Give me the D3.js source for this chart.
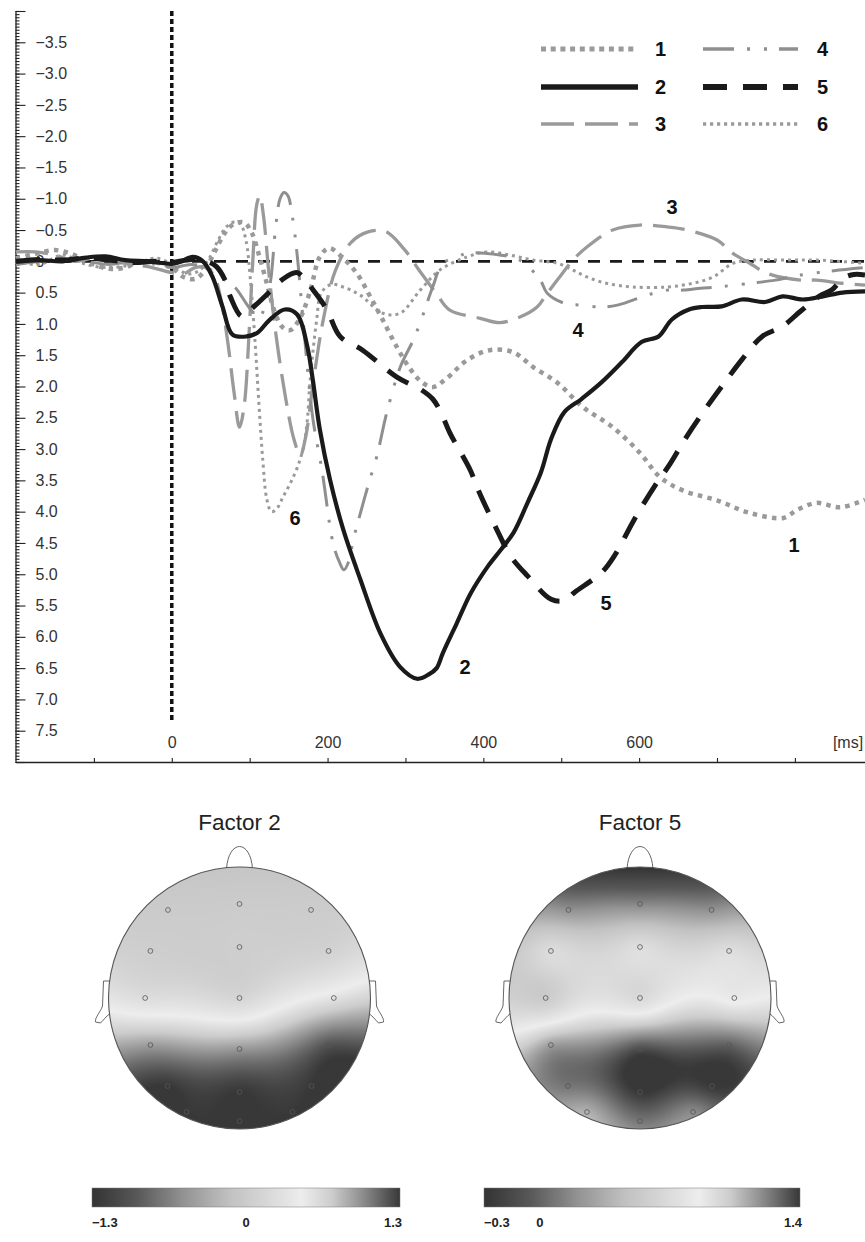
<!DOCTYPE html>
<html><head><meta charset="utf-8">
<script src="https://cdn.jsdelivr.net/npm/d3@7"></script>
<style>
html,body{margin:0;padding:0;background:#fff;}
svg{display:block;font-family:"Liberation Sans",Arial,Helvetica,sans-serif;}
</style></head><body>
<svg id="chart" width="865" height="1242"></svg>
<script>
// ---------------- DATA ----------------
// time (ms), amplitude (µV, positive down)
const factor1 = [[-200,-0.05],[-175,-0.12],[-150,-0.18],[-125,-0.1],[-100,0.05],[-80,0.12],[-60,0.1],[-40,0.0],[-20,0.02],[0,0.1],[15,0.25],[30,0.28],[42,0.15],[55,-0.15],[68,-0.45],[80,-0.6],[93,-0.62],[103,-0.45],[112,-0.1],[122,0.35],[132,0.8],[142,1.05],[152,1.1],[165,0.9],[178,0.46],[190,-0.07],[202,-0.21],[220,-0.05],[238,0.2],[255,0.57],[271,0.94],[289,1.37],[305,1.7],[320,1.92],[335,2.01],[352,1.88],[379,1.58],[408,1.42],[438,1.45],[464,1.69],[495,1.94],[528,2.33],[566,2.65],[601,3.06],[627,3.45],[656,3.66],[700,3.82],[742,4.02],[785,4.1],[803,3.97],[828,3.86],[858,3.93],[890,3.81]];
const factor2 = [[-200,0.0],[-170,-0.02],[-140,0.0],[-110,-0.06],[-85,-0.08],[-60,-0.02],[-30,0.0],[-10,0.03],[0,0.04],[12,0.0],[27,-0.07],[40,0.0],[52,0.24],[65,0.72],[78,1.17],[96,1.2],[110,1.14],[126,0.93],[145,0.77],[161,0.85],[174,1.36],[181,1.89],[190,2.68],[203,3.48],[220,4.28],[242,5.08],[268,5.95],[293,6.48],[315,6.67],[330,6.6],[340,6.5],[348,6.26],[366,5.78],[384,5.3],[406,4.87],[423,4.6],[439,4.33],[457,3.85],[474,3.37],[487,2.84],[504,2.41],[526,2.2],[552,1.93],[578,1.61],[603,1.29],[625,1.2],[642,0.93],[664,0.77],[681,0.73],[706,0.72],[732,0.61],[762,0.65],[784,0.56],[810,0.61],[836,0.56],[861,0.5],[890,0.48]];
const factor3 = [[-200,-0.15],[-175,-0.15],[-150,-0.1],[-125,0.0],[-100,-0.05],[-75,0.0],[-50,0.05],[-25,0.1],[0,0.18],[15,0.2],[30,0.1],[45,0.1],[55,0.25],[63,0.6],[72,1.3],[80,2.1],[87,2.65],[93,2.3],[99,1.2],[104,0.0],[109,-0.9],[113,-1.05],[118,-0.7],[124,0.1],[133,1.1],[145,2.1],[157,2.85],[165,3.1],[172,2.8],[182,1.9],[195,0.9],[210,0.15],[230,-0.3],[252,-0.47],[274,-0.48],[298,-0.2],[318,0.15],[340,0.52],[357,0.78],[396,0.91],[421,0.98],[447,0.89],[469,0.73],[482,0.51],[498,0.25],[515,-0.02],[533,-0.23],[566,-0.5],[601,-0.58],[636,-0.55],[662,-0.5],[700,-0.34],[720,-0.13],[742,0.03],[764,0.19],[807,0.3],[828,0.3],[860,0.35],[890,0.38]];
const factor4 = [[-200,0.05],[-170,0.0],[-140,-0.05],[-110,0.0],[-80,0.05],[-50,0.0],[-20,0.05],[0,0.1],[25,0.05],[45,0.1],[62,0.25],[80,0.4],[100,0.75],[112,0.9],[120,0.7],[127,0.3],[133,-0.5],[139,-1.0],[144,-1.1],[149,-1.05],[155,-0.7],[161,-0.1],[169,1.0],[181,2.5],[193,3.35],[207,4.5],[215,4.8],[221,4.93],[227,4.8],[233,4.45],[242,4.03],[254,3.5],[263,3.13],[276,2.42],[293,1.7],[310,1.26],[319,0.98],[335,0.41],[348,0.03],[367,-0.07],[379,-0.13],[421,-0.1],[447,-0.02],[473,0.3],[482,0.51],[504,0.67],[526,0.7],[552,0.73],[572,0.7],[592,0.62],[618,0.51],[636,0.46],[657,0.46],[679,0.43],[700,0.41],[743,0.35],[775,0.3],[807,0.22],[850,0.15],[890,0.1]];
const factor5 = [[-200,0.0],[-170,-0.03],[-140,-0.02],[-110,-0.05],[-80,-0.02],[-50,0.02],[-20,0.0],[0,0.02],[25,-0.03],[45,0.0],[57,0.08],[68,0.29],[75,0.56],[90,0.88],[104,0.74],[122,0.53],[142,0.29],[160,0.18],[168,0.24],[181,0.45],[199,0.77],[216,1.2],[245,1.42],[289,1.85],[320,2.05],[335,2.2],[345,2.4],[357,2.74],[383,3.33],[393,3.64],[419,4.33],[435,4.71],[457,5.03],[487,5.4],[504,5.42],[517,5.29],[552,4.97],[568,4.71],[594,4.12],[620,3.59],[638,3.27],[659,2.84],[685,2.36],[706,2.0],[732,1.57],[758,1.2],[784,1.04],[806,0.81],[831,0.56],[848,0.45],[862,0.27],[876,0.21],[890,0.22]];
const factor6 = [[-200,0.0],[-170,0.05],[-140,-0.1],[-110,0.05],[-80,0.1],[-50,0.05],[-20,-0.05],[0,0.05],[20,0.2],[35,0.15],[48,-0.05],[60,-0.35],[70,-0.55],[80,-0.63],[88,-0.6],[95,-0.35],[101,0.3],[107,1.3],[112,2.3],[117,3.2],[122,3.8],[128,4.0],[135,3.95],[143,3.76],[152,3.55],[161,3.3],[169,2.97],[174,2.54],[177,2.0],[181,1.47],[186,0.94],[192,0.5],[205,0.37],[220,0.41],[242,0.54],[271,0.83],[293,0.83],[319,0.46],[344,0.14],[379,-0.07],[405,-0.15],[434,-0.1],[464,-0.02],[495,0.03],[515,0.14],[533,0.25],[558,0.35],[592,0.41],[636,0.41],[669,0.35],[695,0.25],[721,0.03],[746,-0.02],[785,-0.02],[828,-0.02],[890,0.03]];

const seriesNames = ["1","2","3","4","5","6"];
const yTickLabels = [-3.5,-3.0,-2.5,-2.0,-1.5,-1.0,-0.5,0,0.5,1.0,1.5,2.0,2.5,3.0,3.5,4.0,4.5,5.0,5.5,6.0,6.5,7.0,7.5];
const xTickLabels = [0,200,400,600];
const xTicks = [-100,0,100,200,300,400,500,600,700,800];

// topographic maps: electrode positions (unit head) and loadings
const electrodePos = [[-0.546,-0.672],[0,-0.718],[0.546,-0.672],[-0.68,-0.359],[0,-0.389],[0.68,-0.359],[-0.72,0],[0,0],[0.72,0],[-0.68,0.359],[0,0.389],[0.68,0.359],[-0.55,0.672],[0,0.718],[0.55,0.672],[-0.405,0.87],[0,0.94],[0.405,0.87]];
const topoFactor2 = [0.0,0.0,0.02, 0.05,0.05,0.1, 0.25,0.15,0.55, 0.92,0.94,1.2, 1.3,1.3,1.3, 1.3,1.3,1.3];
const topoFactor5 = [0.2,0.15,0.2, 0.7,0.72,0.72, 0.55,0.68,0.82, 1.15,1.35,1.3, 1.25,1.4,1.4, 1.1,1.25,1.2];
const topoRange2 = [-1.3, 1.3];
const topoRange5 = [-0.3, 1.4];
const topoTitles = ["Factor 2", "Factor 5"];

// ---------------- STYLES ----------------
const styles = {
  "1": {color:"#9a9a9a", width:4.5, dash:"4.5,5.2", lw:5, ldash:"5,4.7"},
  "2": {color:"#1a1a1a", width:4.2, dash:null, lw:5.5, ldash:null},
  "3": {color:"#9a9a9a", width:3.3, dash:"32,11", lw:3.6, ldash:"33,11"},
  "4": {color:"#8f8f8f", width:3, dash:"31,13,3,14,3,12", lw:3.4, ldash:"31,13,3,14,3,12"},
  "5": {color:"#1a1a1a", width:5, dash:"24,15", lw:6, ldash:"24,16"},
  "6": {color:"#9a9a9a", width:3, dash:"3,4", lw:3.4, ldash:"3.2,3.8"}
};
const seriesData = {"1":factor1,"2":factor2,"3":factor3,"4":factor4,"5":factor5,"6":factor6};

const svg = d3.select("#chart");
svg.append("rect").attr("width",865).attr("height",1242).attr("fill","#fff");

const x = d3.scaleLinear().domain([-200, 890]).range([16, 865]);
const y = d3.scaleLinear().domain([-4, 8]).range([11, 762]);
const fmt = d3.format(".1f");

// zero line
svg.append("line").attr("x1",x(-200)).attr("x2",865).attr("y1",y(0)).attr("y2",y(0))
  .attr("stroke","#1a1a1a").attr("stroke-width",2.6).attr("stroke-dasharray","12,10");
// stimulus onset line
svg.append("line").attr("x1",x(0)).attr("x2",x(0)).attr("y1",11).attr("y2",723)
  .attr("stroke","#111").attr("stroke-width",3.5).attr("stroke-dasharray","5,3");

// y axis
const yg = svg.append("g").attr("transform","translate(15.5,0)");
yg.call(d3.axisRight(y).tickValues(d3.range(0,241).map(i=>-4+i*0.05)).tickSize(4).tickSizeOuter(0).tickFormat(""));
yg.call(g=>g.selectAll(".domain").attr("stroke","#222").attr("stroke-width",1.3));
const yg2 = svg.append("g").attr("transform","translate(15.5,0)");
yg2.call(d3.axisRight(y).tickValues(d3.range(0,25).map(i=>-4+i*0.5)).tickSize(10).tickPadding(10).tickSizeOuter(0)
  .tickFormat(v => yTickLabels.some(t=>Math.abs(t-v)<1e-6) ? (Math.abs(v)<1e-6 ? "0" : fmt(v)) : ""));
yg2.select(".domain").remove();
svg.selectAll(".tick line").attr("stroke","#222").attr("stroke-width",1.1);
yg2.selectAll("text").attr("font-size",16).attr("fill","#333").attr("font-family","Liberation Sans, Arial, sans-serif");

// x axis
const xg = svg.append("g").attr("transform","translate(0,762)");
xg.call(d3.axisTop(x).tickValues(xTicks).tickSize(4).tickPadding(10).tickSizeOuter(0)
  .tickFormat(v => xTickLabels.includes(v) ? String(v) : ""));
xg.select(".domain").attr("stroke","#222").attr("stroke-width",1.3);
xg.selectAll(".tick line").attr("stroke","#222").attr("stroke-width",1.1);
xg.selectAll("text").attr("font-size",16).attr("fill","#333").attr("font-family","Liberation Sans, Arial, sans-serif");
svg.append("text").attr("x",848).attr("y",748).attr("text-anchor","middle")
  .attr("font-size",16).attr("fill","#333").text("[ms]");

// curves
const line = d3.line().x(d=>x(d[0])).y(d=>y(d[1])).curve(d3.curveCatmullRom.alpha(0.5));
const drawOrder = ["1","6","3","4","5","2"];
drawOrder.forEach(k=>{
  const s = styles[k];
  const p = svg.append("path").datum(seriesData[k]).attr("d",line)
    .attr("fill","none").attr("stroke",s.color).attr("stroke-width",s.width)
    .attr("stroke-linejoin","round");
  if (s.dash) p.attr("stroke-dasharray",s.dash);
});

// curve labels
const curveLabels = [["1",794,545],["2",465,667],["3",672,207],["4",578,330],["5",606,603],["6",295,518]];
curveLabels.forEach(([t,cx,cy])=>{
  svg.append("text").attr("x",cx).attr("y",cy+7).attr("text-anchor","middle")
    .attr("font-size",20).attr("font-weight","bold").attr("fill","#111").text(t);
});

// legend
const legendCols = [{x1:541,x2:638,lx:655,items:["1","2","3"]},{x1:703,x2:798,lx:817,items:["4","5","6"]}];
const legendRows = [49,87,124];
legendCols.forEach(col=>{
  col.items.forEach((k,i)=>{
    const s = styles[k], ly = legendRows[i];
    const l = svg.append("line").attr("x1",col.x1).attr("x2",col.x2).attr("y1",ly).attr("y2",ly)
      .attr("stroke",s.color).attr("stroke-width",s.lw);
    if (s.ldash) l.attr("stroke-dasharray",s.ldash);
    svg.append("text").attr("x",col.lx).attr("y",ly+7).attr("font-size",20).attr("font-weight","bold")
      .attr("fill","#111").text(k);
  });
});

// ---------------- TOPOGRAPHIC MAPS ----------------
const grayT = [0,0.15,0.3,0.45,0.55,0.68,0.78,0.88,1];
const grayV = [0.2,0.35,0.58,0.76,0.83,0.93,0.8,0.55,0.22];
const grayScale = d3.scaleLinear().domain(grayT)
  .range(grayV.map(g=>{const c=Math.round(g*255); return `rgb(${c},${c},${c})`;}))
  .interpolate(d3.interpolateRgb).clamp(true);

function tpsFit(pts, vals){
  const n = pts.length, N = n+3;
  const phi = r => r>1e-9 ? r*r*Math.log(r) : 0;
  const A = Array.from({length:N},()=>new Array(N).fill(0));
  const b = new Array(N).fill(0);
  for (let i=0;i<n;i++){
    for (let j=0;j<n;j++){
      A[i][j] = phi(Math.hypot(pts[i][0]-pts[j][0], pts[i][1]-pts[j][1]));
    }
    A[i][n]=1; A[i][n+1]=pts[i][0]; A[i][n+2]=pts[i][1];
    A[n][i]=1; A[n+1][i]=pts[i][0]; A[n+2][i]=pts[i][1];
    b[i]=vals[i];
  }
  for (let k=0;k<N;k++){
    let piv=k;
    for (let i=k+1;i<N;i++) if (Math.abs(A[i][k])>Math.abs(A[piv][k])) piv=i;
    [A[k],A[piv]]=[A[piv],A[k]]; [b[k],b[piv]]=[b[piv],b[k]];
    for (let i=k+1;i<N;i++){
      const f=A[i][k]/A[k][k];
      if (f===0) continue;
      for (let j=k;j<N;j++) A[i][j]-=f*A[k][j];
      b[i]-=f*b[k];
    }
  }
  const w = new Array(N).fill(0);
  for (let i=N-1;i>=0;i--){
    let s=b[i];
    for (let j=i+1;j<N;j++) s-=A[i][j]*w[j];
    w[i]=s/A[i][i];
  }
  return (px,py)=>{
    let s = w[n] + w[n+1]*px + w[n+2]*py;
    for (let i=0;i<n;i++) s += w[i]*phi(Math.hypot(px-pts[i][0], py-pts[i][1]));
    return s;
  };
}

function drawHead(idx, cx, cy, R, vals, range, title){
  const g = svg.append("g");
  const top = cy - R;
  g.append("text").attr("x",cx).attr("y",830).attr("text-anchor","middle")
    .attr("font-size",22.5).attr("fill","#222").text(title);
  g.append("path").attr("d",`M${cx-13},${top+2} C${cx-11},${top-28} ${cx+11},${top-28} ${cx+13},${top+2}`)
    .attr("fill","#fff").attr("stroke","#555").attr("stroke-width",0.9);
  [-1,1].forEach(sgn=>{
    const ex = cx + sgn*R;
    const X = d => ex + sgn*d;
    g.append("path").attr("d",
      `M${X(-2)},${cy-17} L${X(5)},${cy-17} L${X(6)},${cy+8} C${X(8)},${cy+14} ${X(14)},${cy+20} ${X(13)},${cy+24} L${X(8)},${cy+25} C${X(5)},${cy+22} ${X(2)},${cy+18} ${X(-1)},${cy+16}`)
      .attr("fill","#fff").attr("stroke","#555").attr("stroke-width",0.9);
  });
  const f = tpsFit(electrodePos, vals);
  const tScale = d3.scaleLinear().domain(range).range([0,1]);
  const size = Math.ceil(2*R)+2;
  const canvas = document.createElement("canvas");
  canvas.width = size; canvas.height = size;
  const ctx = canvas.getContext("2d");
  const img = ctx.createImageData(size,size);
  for (let py=0; py<size; py++){
    for (let px=0; px<size; px++){
      const nx = (px+0.5-size/2)/R, ny = (py+0.5-size/2)/R;
      const o = (py*size+px)*4;
      if (nx*nx+ny*ny > 1.03){ img.data[o+3]=0; continue; }
      const c = d3.rgb(grayScale(tScale(f(nx,ny))));
      img.data[o]=c.r; img.data[o+1]=c.g; img.data[o+2]=c.b; img.data[o+3]=255;
    }
  }
  ctx.putImageData(img,0,0);
  const clipId = "headclip"+idx;
  svg.append("clipPath").attr("id",clipId).append("circle").attr("cx",cx).attr("cy",cy).attr("r",R);
  g.append("image").attr("href",canvas.toDataURL()).attr("x",cx-size/2).attr("y",cy-size/2)
    .attr("width",size).attr("height",size).attr("clip-path",`url(#${clipId})`);
  g.append("circle").attr("cx",cx).attr("cy",cy).attr("r",R).attr("fill","none")
    .attr("stroke","#555").attr("stroke-width",1.1);
  g.selectAll("circle.el").data(electrodePos).enter().append("circle").attr("class","el")
    .attr("cx",d=>cx+d[0]*R).attr("cy",d=>cy+d[1]*R).attr("r",2.4)
    .attr("fill","none").attr("stroke","#555").attr("stroke-width",0.8);
}

drawHead(0, 239.5, 998, 131, topoFactor2, topoRange2, topoTitles[0]);
drawHead(1, 640, 998, 131, topoFactor5, topoRange5, topoTitles[1]);

// colorbars
const defs = svg.append("defs");
const grad = defs.append("linearGradient").attr("id","cbgrad").attr("x1","0%").attr("x2","100%").attr("y1","0%").attr("y2","0%");
d3.range(0,51).forEach(i=>{
  const t=i/50;
  grad.append("stop").attr("offset",`${t*100}%`).attr("stop-color",grayScale(t));
});
function drawColorbar(x0,x1,range,labels){
  const cs = d3.scaleLinear().domain(range).range([x0,x1]);
  svg.append("rect").attr("x",x0).attr("y",1188).attr("width",x1-x0).attr("height",19)
    .attr("fill","url(#cbgrad)").attr("stroke","#777").attr("stroke-width",0.5);
  labels.forEach((v,i)=>{
    const anchor = i===0 ? "start" : (i===labels.length-1 ? "end" : "middle");
    const px = i===0 ? x0 : (i===labels.length-1 ? x1+2 : cs(v));
    svg.append("text").attr("x",px).attr("y",1227).attr("text-anchor",anchor)
      .attr("font-size",13).attr("font-weight","bold").attr("fill","#222")
      .text(v===0 ? "0" : fmt(v));
  });
}
drawColorbar(92,400,topoRange2,[-1.3,0,1.3]);
drawColorbar(484,800,topoRange5,[-0.3,0,1.4]);
</script>
</body></html>
